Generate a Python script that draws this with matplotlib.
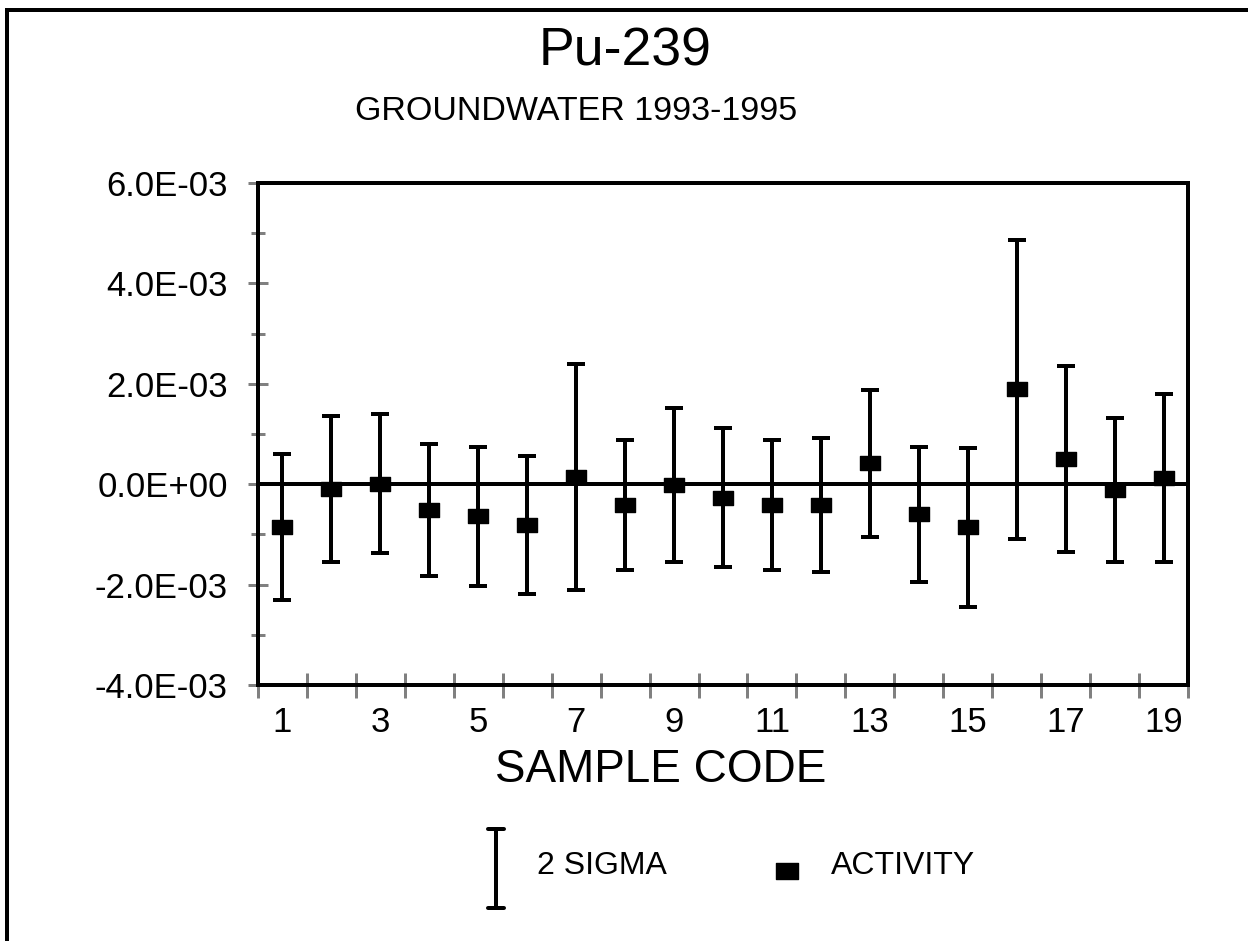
import matplotlib
matplotlib.use("Agg")
import matplotlib.pyplot as plt
from matplotlib.lines import Line2D
from matplotlib.patches import Rectangle
from matplotlib.path import Path
from matplotlib.ticker import FixedLocator, FuncFormatter

plt.rcParams['font.family'] = ['Liberation Sans', 'DejaVu Sans']

# ---- data (values in units of 1e-3) ----
sample_code = list(range(1, 20))
activity = [-0.85, -0.09, 0.01, -0.52, -0.64, -0.81, 0.14, -0.41, -0.01, -0.27,
            -0.41, -0.41, 0.42, -0.60, -0.86, 1.89, 0.50, -0.12, 0.12]
two_sigma = [1.455, 1.45, 1.39, 1.315, 1.385, 1.375, 2.255, 1.30, 1.53, 1.385,
             1.30, 1.335, 1.465, 1.35, 1.59, 2.975, 1.845, 1.43, 1.675]
scale = 1e-3
y_ticks = [-4e-3, -2e-3, 0.0, 2e-3, 4e-3, 6e-3]
y_minor = [-3e-3, -1e-3, 1e-3, 3e-3, 5e-3]
x_labels = [1, 3, 5, 7, 9, 11, 13, 15, 17, 19]

act = [a * scale for a in activity]
err = [s * scale for s in two_sigma]

W, H = 1248, 941
fig = plt.figure(figsize=(W / 100, H / 100), dpi=100)
ax = fig.add_axes([258 / W, 1 - 685 / H, (1188 - 258) / W, (685 - 183) / H])

px = 0.72  # points per pixel
rect_marker = Path([(-1, -0.7), (1, -0.7), (1, 0.7), (-1, 0.7), (-1, -0.7)],
                   [Path.MOVETO, Path.LINETO, Path.LINETO, Path.LINETO, Path.CLOSEPOLY])

ax.axhline(0, color='black', lw=4 * px, zorder=2)
ax.errorbar(sample_code, act, yerr=err, fmt='none', ecolor='black',
            elinewidth=4 * px, capsize=9 * px, capthick=4 * px, zorder=3)
ax.plot(sample_code, act, linestyle='none', marker=rect_marker,
        markersize=20 * px, color='black', zorder=4)

ax.set_xlim(0.5, 19.5)
ax.set_ylim(-4e-3, 6e-3)

for s in ax.spines.values():
    s.set_linewidth(4 * px)
    s.set_color('black')

ax.yaxis.set_major_locator(FixedLocator(y_ticks))
ax.yaxis.set_minor_locator(FixedLocator(y_minor))
ax.yaxis.set_major_formatter(FuncFormatter(
    lambda v, p: ("%.1E" % v).replace("-0.0", "0.0")))
ax.tick_params(axis='y', which='major', direction='inout', length=20 * px,
               width=3 * px, color='#808080', labelsize=25, pad=14.5)
ax.tick_params(axis='y', which='minor', direction='inout', length=14 * px,
               width=3 * px, color='#808080')

ax.xaxis.set_major_locator(FixedLocator(x_labels))
ax.xaxis.set_minor_locator(FixedLocator([i + 0.5 for i in range(0, 20)]))
ax.set_xticklabels([str(v) for v in x_labels])
ax.tick_params(axis='x', which='major', length=0, labelsize=25, pad=15)
ax.tick_params(axis='x', which='minor', direction='inout', length=25 * px,
               width=3 * px, color='#808080')

ax.set_xlabel('SAMPLE CODE', fontsize=33, va='center')
ax.xaxis.set_label_coords((661 - 258) / 930, (685 - 770) / 502)

fig.text(625 / W, 1 - 52 / H, 'Pu-239', fontsize=38.5, ha='center', va='center')
fig.text(576 / W, 1 - 112 / H, 'GROUNDWATER 1993-1995', fontsize=24.5,
         ha='center', va='center')

# outer frame
fig.add_artist(Rectangle((7 / W, -0.2), 1.5, 1 - 10 / H + 0.2, transform=fig.transFigure,
                         fill=False, edgecolor='black', lw=4 * px))

# legend drawn manually
ex = 496 / W
fig.add_artist(Line2D([ex, ex], [1 - 829 / H, 1 - 908 / H], transform=fig.transFigure,
                      color='black', lw=4 * px))
for yy in (829, 908):
    fig.add_artist(Line2D([ex - 8 / W, ex + 8 / W], [1 - yy / H, 1 - yy / H],
                          transform=fig.transFigure, color='black', lw=4 * px,
                          solid_capstyle='round'))
fig.text(537 / W, 1 - 866 / H, '2 SIGMA', fontsize=23, ha='left', va='center')
fig.add_artist(Line2D([787 / W], [1 - 871 / H], transform=fig.transFigure,
                      marker=rect_marker, markersize=22 * px, color='black',
                      linestyle='none'))
fig.text(831 / W, 1 - 866 / H, 'ACTIVITY', fontsize=23, ha='left', va='center')

fig.savefig('out.png', dpi=100)
